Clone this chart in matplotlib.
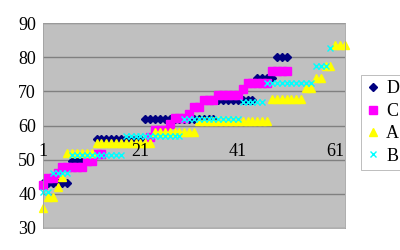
import matplotlib
matplotlib.use('Agg')
import numpy as np
import matplotlib.pyplot as plt

# values, one per x = 1..63 (None = no point)
x = np.arange(1, 64)

D = ([43.2]*6 + [49.6]*5 + [56.0]*10 + [62.0]*15 + [67.6]*8 + [74.0]*4
     + [80.0]*3 + [None]*12)
C = ([42.6] + [44.5]*2 + [46.2] + [48.0]*5 + [49.5]*2 + [51.6]*2 + [None]*9
     + [56.5] + [58.7]*3 + [60.4] + [62.1]*3 + [63.5] + [65.5]*2 + [67.4]*3
     + [69.0]*5 + [70.8] + [72.5]*5 + [76.0]*4 + [None]*12)
A = ([36.0] + [39.0]*2 + [42.0] + [45.0] + [52.0]*6 + [55.0]*12 + [58.2]*9
     + [61.2]*15 + [67.7]*7 + [71.0]*2 + [74.0]*2 + [77.3]*2 + [83.6]*3)
B = ([40.4]*2 + [46.2]*4 + [51.5]*11 + [56.8]*12 + [61.8]*12 + [66.8]*5
     + [72.4]*10 + [77.3]*3 + [82.8] + [None]*3)

xlabels = ['1', '21', '41', '61']
yticks = [30, 40, 50, 60, 70, 80, 90]

def arr(v):
    return np.array([np.nan if a is None else a for a in v], dtype=float)

plt.rcParams['font.family'] = ['Liberation Serif', 'DejaVu Serif']

fig = plt.figure(figsize=(4, 2.5), dpi=100)
ax = fig.add_axes([0.1075, 0.088, 0.755, 0.82])
ax.set_facecolor('#c0c0c0')

ax.plot(x, arr(D), ls='none', marker='D', ms=3.9, color='#000080',
        mec='#000080', label='D', clip_on=False)
ax.plot(x, arr(C), ls='none', marker='s', ms=5.2, color='#ff00ff',
        mec='#ff00ff', label='C', clip_on=False)
ax.plot(x, arr(A), ls='none', marker='^', ms=5.8, color='#ffff00',
        mec='#ffff00', label='A', clip_on=False)
ax.plot(x, arr(B), ls='none', marker='x', ms=4.4, mew=1.0, color='#00ffff',
        label='B', clip_on=False)

ax.set_xlim(1, 63)
ax.set_ylim(30, 90)
ax.set_yticks(yticks)
ax.set_xticks([])
ax.grid(True, axis='y', color='#808080', lw=1.0)
ax.set_axisbelow(True)
ax.tick_params(axis='y', length=0, pad=5, labelsize=13)
for s in ax.spines.values():
    s.set_color('#a0a0a0')
    s.set_linewidth(0.6)

# category labels sit on the 50 line inside the plot
for lab in xlabels:
    ax.text(int(lab), 50, lab, ha='center', va='bottom', fontsize=13)

leg = fig.legend(loc='upper left', bbox_to_anchor=(0.902, 0.70),
                 fontsize=13, frameon=True, fancybox=False, handlelength=0.7,
                 handletextpad=0.4, borderpad=0.3, labelspacing=0.3,
                 borderaxespad=0)
leg.get_frame().set_edgecolor('#a0a0a0')
leg.get_frame().set_linewidth(0.6)

fig.savefig('out.png', dpi=100)
